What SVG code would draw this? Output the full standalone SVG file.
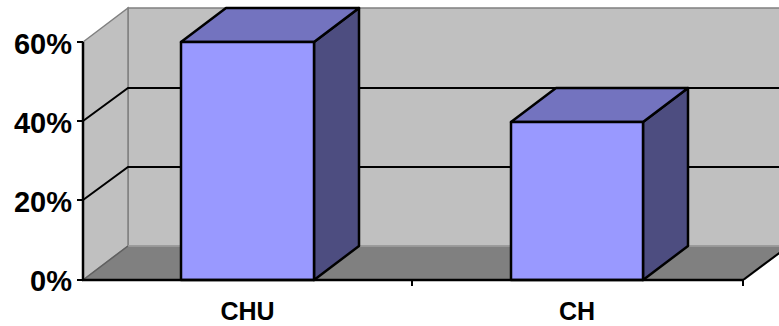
<svg xmlns="http://www.w3.org/2000/svg" width="779" height="326" viewBox="0 0 779 326">
<style>
.wall{fill:#C0C0C0;stroke:#808080;stroke-width:1.5}
.floor{fill:#808080;stroke:none}
.grid{stroke:#000;stroke-width:2;fill:none}
.front{fill:#9999FF;stroke:#000;stroke-width:2.5;stroke-linejoin:round}
.top{fill:#7373BF;stroke:#000;stroke-width:2.5;stroke-linejoin:round}
.side{fill:#4D4D80;stroke:#000;stroke-width:2.5;stroke-linejoin:round}
.axis{stroke:#000;stroke-width:2.5;fill:none}
.lbl{font-family:"Liberation Sans",Arial,sans-serif;font-weight:bold;fill:#000}
</style>
<rect width="779" height="326" fill="#FFFFFF"/>
<g id="walls">
<rect class="wall" x="128" y="8" width="660" height="238"/>
<polygon class="wall" points="83,42 128,8 128,246 83,280"/>
<polygon class="floor" points="83,280 128,246 790,246 745,280"/>
<line x1="128" y1="246" x2="779" y2="246" stroke="#A0A0A0" stroke-width="1.5"/>
<line x1="83" y1="280" x2="128" y2="246" stroke="#606060" stroke-width="1.5"/>
</g>
<g id="gridlines">
<polyline class="grid" points="83,200 128,167 779,167"/>
<polyline class="grid" points="83,121 128,88 779,88"/>
</g>
<g id="bar-chu">
<polygon class="side" points="314,42 359,8 359,246 314,280"/>
<polygon class="top" points="181,42 226,8 359,8 314,42"/>
<rect class="front" x="181" y="42" width="133" height="238"/>
</g>
<g id="bar-ch">
<polygon class="side" points="643,122 688,88 688,246 643,280"/>
<polygon class="top" points="511,122 556,88 688,88 643,122"/>
<rect class="front" x="511" y="122" width="132" height="158"/>
</g>
<g id="axes">
<line class="axis" x1="83" y1="42" x2="83" y2="281"/>
<line class="axis" x1="82" y1="280" x2="743" y2="280"/>
<line x1="743" y1="280" x2="790" y2="245" stroke="#000" stroke-width="2"/>
<g stroke="#000" stroke-width="2">
<line x1="77" y1="42" x2="83" y2="42"/>
<line x1="77" y1="121" x2="83" y2="121"/>
<line x1="77" y1="200" x2="83" y2="200"/>
<line x1="77" y1="280" x2="83" y2="280"/>
<line x1="412" y1="280" x2="412" y2="286"/>
<line x1="743" y1="280" x2="743" y2="286"/>
</g>
</g>
<g id="labels" class="lbl">
<text x="72" y="54" font-size="29" text-anchor="end">60%</text>
<text x="72" y="133" font-size="29" text-anchor="end">40%</text>
<text x="72" y="212" font-size="29" text-anchor="end">20%</text>
<text x="72" y="291" font-size="29" text-anchor="end">0%</text>
<text x="247.5" y="320" font-size="25" text-anchor="middle">CHU</text>
<text x="577" y="320" font-size="25" text-anchor="middle">CH</text>
</g>
</svg>
